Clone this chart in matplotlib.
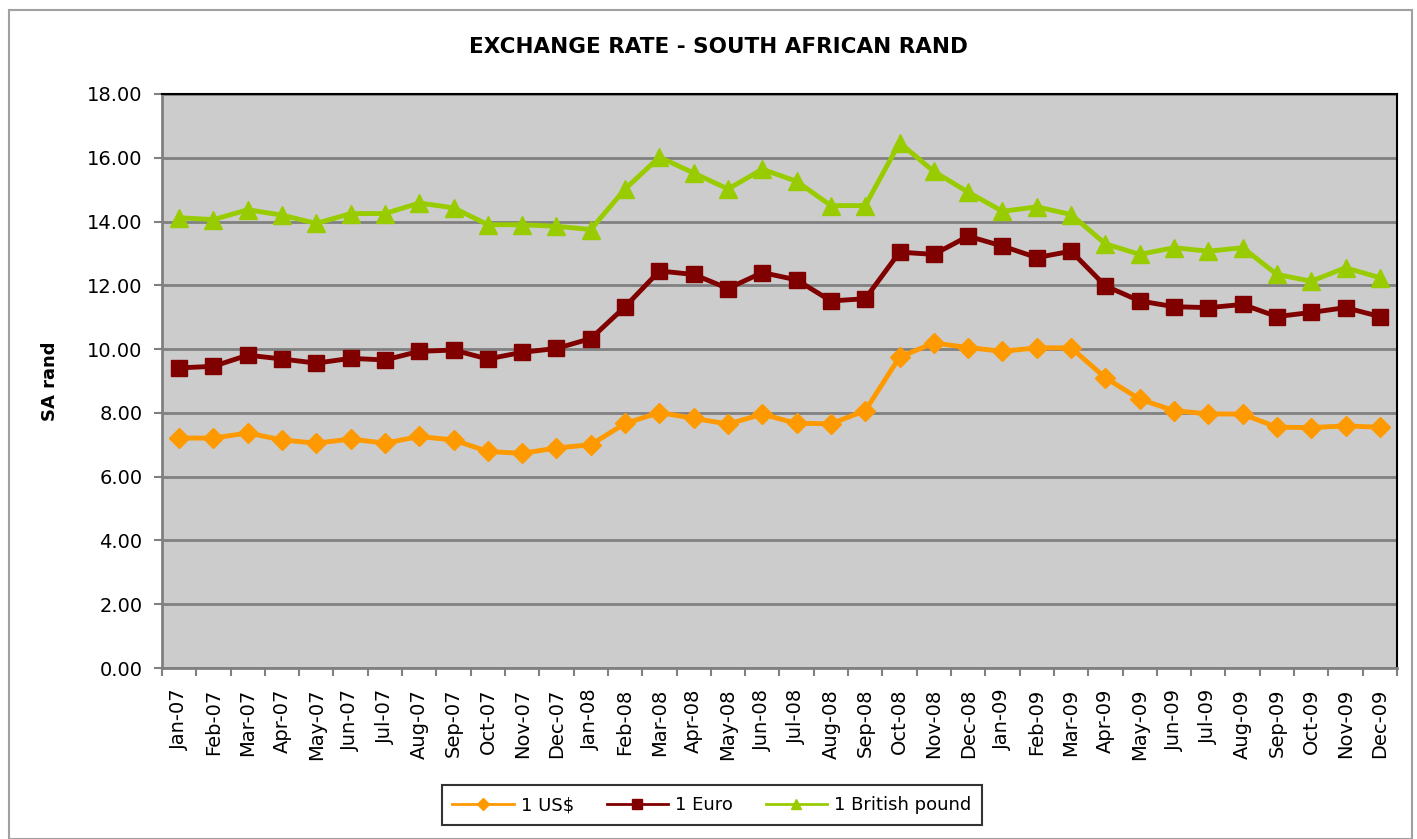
import matplotlib
matplotlib.use("Agg")
import matplotlib.pyplot as plt
import numpy as np

months = ['Jan-07', 'Feb-07', 'Mar-07', 'Apr-07', 'May-07', 'Jun-07', 'Jul-07', 'Aug-07', 'Sep-07',
          'Oct-07', 'Nov-07', 'Dec-07', 'Jan-08', 'Feb-08', 'Mar-08', 'Apr-08', 'May-08', 'Jun-08',
          'Jul-08', 'Aug-08', 'Sep-08', 'Oct-08', 'Nov-08', 'Dec-08', 'Jan-09', 'Feb-09', 'Mar-09',
          'Apr-09', 'May-09', 'Jun-09', 'Jul-09', 'Aug-09', 'Sep-09', 'Oct-09', 'Nov-09', 'Dec-09']

usd = [7.21, 7.21, 7.37, 7.15, 7.05, 7.18, 7.05, 7.26, 7.15, 6.79, 6.73, 6.90,
       7.00, 7.67, 8.01, 7.83, 7.65, 7.96, 7.67, 7.66, 8.07, 9.75, 10.19, 10.05,
       9.93, 10.04, 10.04, 9.10, 8.43, 8.07, 7.97, 7.96, 7.55, 7.54, 7.59, 7.55]

euro = [9.41, 9.46, 9.81, 9.69, 9.56, 9.71, 9.66, 9.93, 9.97, 9.69, 9.90, 10.02,
        10.33, 11.33, 12.45, 12.34, 11.90, 12.40, 12.17, 11.51, 11.58, 13.04, 12.97, 13.54,
        13.23, 12.87, 13.07, 11.98, 11.51, 11.33, 11.30, 11.40, 11.02, 11.15, 11.30, 11.02]

gbp = [14.12, 14.06, 14.37, 14.20, 13.94, 14.25, 14.25, 14.58, 14.43, 13.90, 13.90, 13.85,
       13.75, 15.02, 16.02, 15.52, 15.02, 15.64, 15.26, 14.50, 14.50, 16.47, 15.57, 14.92,
       14.32, 14.46, 14.22, 13.30, 12.97, 13.18, 13.07, 13.18, 12.34, 12.13, 12.55, 12.24]

yticks = np.arange(0, 18.01, 2)

plt.rcParams['font.family'] = ['DejaVu Sans']

fig = plt.figure(figsize=(14.17, 8.39), dpi=100)
ax = fig.add_axes([0.1143, 0.2038, 0.8716, 0.6842])
ax.set_facecolor('#CCCCCC')

x = np.arange(len(months))
ax.plot(x, usd, color='#FF9900', lw=3.5, marker='D', ms=10, label='1 US$', zorder=3)
ax.plot(x, euro, color='#800000', lw=3.5, marker='s', ms=12, label='1 Euro', zorder=3)
ax.plot(x, gbp, color='#99CC00', lw=3.5, marker='^', ms=13, label='1 British pound', zorder=3)

ax.set_xlim(-0.5, len(months) - 0.5)
ax.set_ylim(0, 18)
ax.set_yticks(yticks)
ax.set_yticklabels(['%.2f' % v for v in yticks], fontsize=14)
ax.yaxis.grid(True, color='#808080', lw=2, zorder=1)
ax.set_axisbelow(True)

ax.set_xticks(x)
ax.set_xticklabels(months, rotation=90, fontsize=14)
ax.set_xticks(np.arange(-0.5, len(months), 1), minor=True)
ax.tick_params(axis='x', which='major', length=0, pad=15)
ax.tick_params(axis='x', which='minor', length=6, color='#808080', width=1.5)
ax.tick_params(axis='y', length=6, color='#808080', width=1.5, pad=8)

for s in ['left', 'bottom']:
    ax.spines[s].set_color('#808080')
    ax.spines[s].set_linewidth(2)
for s in ['top', 'right']:
    ax.spines[s].set_color('black')
    ax.spines[s].set_linewidth(1.5)

ax.set_ylabel('SA rand', fontsize=13, fontweight='bold', labelpad=20)
fig.text(0.507, 0.944, 'EXCHANGE RATE - SOUTH AFRICAN RAND', ha='center', va='center',
         fontsize=15.5, fontweight='bold')

leg = fig.legend(loc='center', bbox_to_anchor=(0.5025, 0.0405), ncol=3, fontsize=13,
                 frameon=True, fancybox=False, edgecolor='black', markerscale=0.6,
                 handlelength=3.4, handletextpad=0.4, columnspacing=1.8, borderpad=0.6)
leg.get_frame().set_linewidth(1.5)
for h in leg.get_lines():
    h.set_linewidth(2)

# outer chart border
fig.patches.append(plt.Rectangle((0.0064, 0.0), 0.99, 0.988, transform=fig.transFigure,
                                 fill=False, edgecolor='#A0A0A0', lw=1.5))

fig.savefig('out.png', dpi=100)
